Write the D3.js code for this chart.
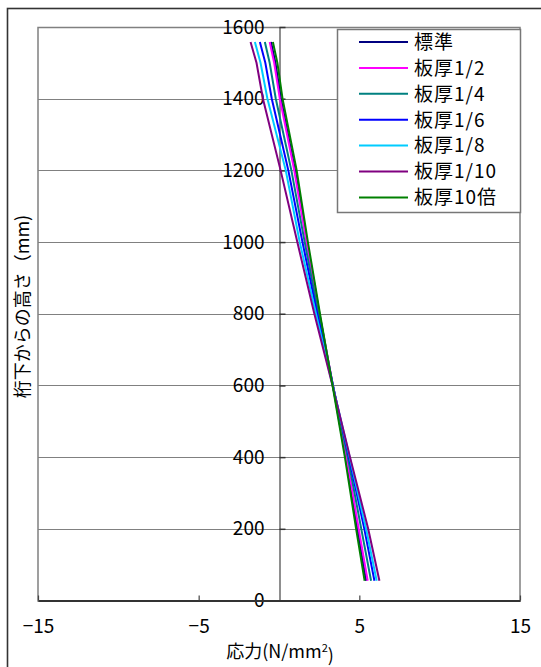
<!DOCTYPE html>
<html>
<head>
<meta charset="utf-8">
<script src="https://cdn.jsdelivr.net/npm/d3@7"></script>
<style>
  html, body { margin: 0; padding: 0; background: #fff; }
  svg { display: block; }
  text { font-family: "Noto Sans CJK JP", "Noto Sans", sans-serif; fill: #000; }
</style>
</head>
<body>
<svg id="chart" width="541" height="667"></svg>
<script>
// Heights above the girder bottom (mm) at which stresses are sampled
const heights = [55, 200, 400, 600, 800, 1000, 1200, 1400, 1500, 1558];

// Stress (N/mm^2) for each case, one value per height
const seriesNames = ["標準", "板厚1/2", "板厚1/4", "板厚1/6", "板厚1/8", "板厚1/10", "板厚10倍"];
const stdValues   = [5.42, 4.88, 4.15, 3.35, 2.52, 1.75, 1.00, 0.12, -0.22, -0.50];
const half        = [5.52, 4.96, 4.20, 3.36, 2.50, 1.71, 0.95, 0.05, -0.30, -0.58];
const quarter     = [5.73, 5.12, 4.28, 3.36, 2.45, 1.60, 0.77, -0.20, -0.58, -0.88];
const sixth       = [5.94, 5.31, 4.35, 3.35, 2.38, 1.46, 0.58, -0.45, -0.85, -1.19];
const eighth      = [6.08, 5.42, 4.40, 3.34, 2.30, 1.29, 0.42, -0.72, -1.15, -1.50];
const tenth       = [6.25, 5.55, 4.42, 3.33, 2.20, 1.14, 0.10, -1.00, -1.40, -1.77];
const tenTimes    = [5.33, 4.80, 4.10, 3.33, 2.55, 1.80, 1.10, 0.22, -0.10, -0.38];
const seriesColors = ["#000080", "#ff00ff", "#008080", "#0000ff", "#00ccff", "#800080", "#008000"];

// Axis ticks
const xTicks = [-15, -5, 5, 15];
const yTicks = [0, 200, 400, 600, 800, 1000, 1200, 1400, 1600];

const allSeries = [stdValues, half, quarter, sixth, eighth, tenth, tenTimes];

const svg = d3.select("#chart");

const plot = { left: 38, right: 520, top: 27, bottom: 600.5 };
const x = d3.scaleLinear().domain([-15, 15]).range([plot.left, plot.right]);
const y = d3.scaleLinear().domain([0, 1600]).range([plot.bottom, plot.top]);

// Outer chart frame
svg.append("rect")
  .attr("x", 7.5).attr("y", 8.5)
  .attr("width", 700).attr("height", 800)
  .attr("fill", "none").attr("stroke", "#333").attr("stroke-width", 1.6);

// Horizontal gridlines
svg.append("g")
  .selectAll("line")
  .data(yTicks)
  .join("line")
  .attr("x1", plot.left).attr("x2", plot.right)
  .attr("y1", d => Math.round(y(d)) + 0.5).attr("y2", d => Math.round(y(d)) + 0.5)
  .attr("stroke", "#808080").attr("stroke-width", 1);

// Plot area border
svg.append("rect")
  .attr("x", plot.left).attr("y", Math.round(y(1600)) + 0.5)
  .attr("width", plot.right - plot.left)
  .attr("height", plot.bottom - y(1600))
  .attr("fill", "none").attr("stroke", "#808080").attr("stroke-width", 1.5);

// Y axis through x = 0
const yAxis = d3.axisLeft(y)
  .tickValues(yTicks)
  .tickSizeInner(-6)
  .tickSizeOuter(0)
  .tickPadding(15)
  .tickFormat(d3.format("d"));
const gy = svg.append("g")
  .attr("transform", `translate(${Math.round(x(0)) + 0.5},0)`)
  .call(yAxis);
gy.select(".domain").attr("stroke", "#444").attr("stroke-width", 1.2);
gy.selectAll(".tick line").attr("stroke", "#333").attr("stroke-width", 1.5);
gy.selectAll(".tick text")
  .style("font-size", "19px")
  .attr("fill", "#000");

// X axis along the bottom
const xAxis = d3.axisBottom(x)
  .tickValues(xTicks)
  .tickSizeInner(-5)
  .tickSizeOuter(0)
  .tickPadding(19)
  .tickFormat(d => d < 0 ? "\u2212" + Math.abs(d) : String(d));
const gx = svg.append("g")
  .attr("transform", `translate(0,${plot.bottom})`)
  .call(xAxis);
gx.select(".domain").attr("stroke", "#333").attr("stroke-width", 2);
gx.selectAll(".tick line").attr("stroke", "#444").attr("stroke-width", 1.2);
gx.selectAll(".tick text").style("font-size", "19px").attr("fill", "#000");

// Stress distribution lines
const line = d3.line()
  .x(d => x(d[1]))
  .y(d => y(d[0]));

svg.append("g")
  .selectAll("path")
  .data(allSeries.map((vals, i) => ({ i, pts: heights.map((h, k) => [h, vals[k]]) })))
  .join("path")
  .attr("d", d => line(d.pts))
  .attr("fill", "none")
  .attr("stroke", d => seriesColors[d.i])
  .attr("stroke-width", 2);

// Legend
const legend = svg.append("g");
legend.append("rect")
  .attr("x", 337.5).attr("y", 29.5)
  .attr("width", 183).attr("height", 183)
  .attr("fill", "#fff").attr("stroke", "#777").attr("stroke-width", 1.5);
const rows = legend.selectAll("g.row")
  .data(seriesNames)
  .join("g")
  .attr("class", "row")
  .attr("transform", (d, i) => `translate(0,${42 + i * 25.9})`);
rows.append("line")
  .attr("x1", 359).attr("x2", 408)
  .attr("stroke", (d, i) => seriesColors[i]).attr("stroke-width", 2);
rows.append("text")
  .attr("x", 414).attr("dy", "0.36em")
  .style("font-size", "19px")
  .style("letter-spacing", "1px")
  .text(d => d);

// Axis titles
const xTitle = svg.append("text")
  .attr("x", x(0) + 1).attr("y", 658)
  .attr("text-anchor", "middle")
  .style("font-size", "18px");
xTitle.append("tspan").text("応力(N/mm");
xTitle.append("tspan").attr("dy", "-0.55em").style("font-size", "11px").text("2");
xTitle.append("tspan").attr("dy", "0.55em").text(")");

svg.append("text")
  .attr("transform", `translate(29,${y(820)}) rotate(-90)`)
  .attr("text-anchor", "middle")
  .style("font-size", "18px")
  .text("桁下からの高さ（mm)");
</script>
</body>
</html>
